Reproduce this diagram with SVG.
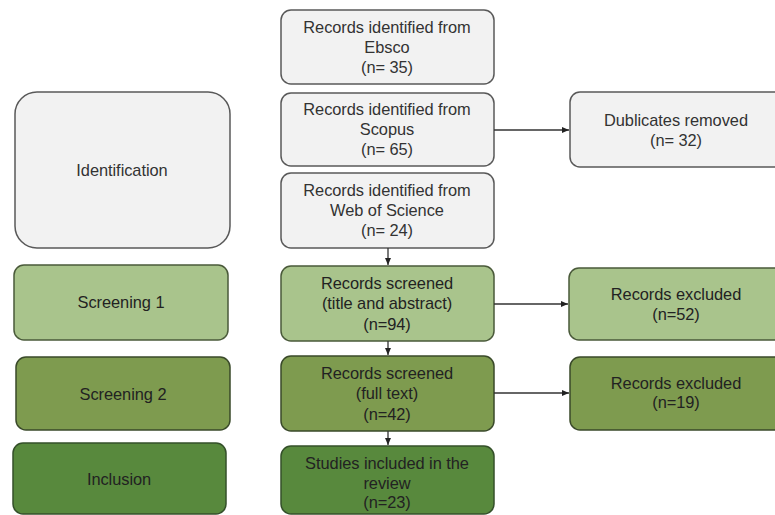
<svg xmlns="http://www.w3.org/2000/svg" width="775" height="515" viewBox="0 0 775 515">
<defs>
<marker id="arr" markerWidth="8" markerHeight="8" refX="7" refY="4" orient="auto" markerUnits="userSpaceOnUse">
<path d="M0,1 L7,4 L0,7 Z" fill="#222"/>
</marker>
<style>
text{font-family:"Liberation Sans",Arial,sans-serif;font-size:16.4px;text-anchor:middle;letter-spacing:-0.05px}
.g rect{fill:#f2f2f2;stroke:#595959;stroke-width:1.5}
.g text{fill:#333}
.s1 rect{fill:#a9c48c;stroke:#4a5a3a;stroke-width:1.5}
.s2 rect{fill:#7e9b4f;stroke:#3a4a2a;stroke-width:1.5}
.s3 rect{fill:#58893d;stroke:#34502a;stroke-width:1.5}
.s1 text,.s2 text,.s3 text{fill:#222}
.c line{stroke:#333;stroke-width:1.3;marker-end:url(#arr)}
</style>
</defs>
<rect width="775" height="515" fill="#fff"/>
<g id="identification" class="g"><rect x="15" y="92" width="215" height="156" rx="22"/><text x="122" y="176">Identification</text></g>
<g id="screening1" class="s1"><rect x="14" y="265" width="214" height="75" rx="10"/><text x="121" y="308">Screening 1</text></g>
<g id="screening2" class="s2"><rect x="16" y="357" width="214" height="73" rx="10"/><text x="123" y="400">Screening 2</text></g>
<g id="inclusion" class="s3"><rect x="13" y="443" width="213" height="71" rx="10"/><text x="119" y="485">Inclusion</text></g>
<g id="ebsco" class="g"><rect x="281" y="10" width="213" height="74" rx="10"/><text x="387" y="33">Records identified from</text><text x="387" y="53">Ebsco</text><text x="387" y="73">(n= 35)</text></g>
<g id="scopus" class="g"><rect x="281" y="93" width="213" height="73" rx="10"/><text x="387" y="115">Records identified from</text><text x="387" y="135">Scopus</text><text x="387" y="155">(n= 65)</text></g>
<g id="wos" class="g"><rect x="281" y="173" width="213" height="75" rx="10"/><text x="387" y="196">Records identified from</text><text x="387" y="216">Web of Science</text><text x="387" y="236">(n= 24)</text></g>
<g id="screened1" class="s1"><rect x="281" y="266" width="213" height="75" rx="10"/><text x="387" y="289">Records screened</text><text x="387" y="309">(title and abstract)</text><text x="387" y="330">(n=94)</text></g>
<g id="screened2" class="s2"><rect x="281" y="356" width="213" height="75" rx="10"/><text x="387" y="379">Records screened</text><text x="387" y="399">(full text)</text><text x="387" y="420">(n=42)</text></g>
<g id="included" class="s3"><rect x="281" y="446" width="213" height="68" rx="10"/><text x="387" y="469">Studies included in the</text><text x="387" y="489">review</text><text x="387" y="508">(n=23)</text></g>
<g id="duplicates" class="g"><rect x="570" y="92" width="215" height="75" rx="10"/><text x="676" y="126">Dublicates removed</text><text x="676" y="146">(n= 32)</text></g>
<g id="excluded1" class="s1"><rect x="569" y="268" width="216" height="72" rx="10"/><text x="676" y="300">Records excluded</text><text x="676" y="320">(n=52)</text></g>
<g id="excluded2" class="s2"><rect x="570" y="357" width="215" height="73" rx="10"/><text x="676" y="389">Records excluded</text><text x="676" y="408">(n=19)</text></g>
<g id="connectors" class="c">
<line x1="494" y1="130" x2="569" y2="130"/>
<line x1="494" y1="304" x2="568" y2="304"/>
<line x1="494" y1="393" x2="569" y2="393"/>
<line x1="388" y1="248" x2="388" y2="265"/>
<line x1="388" y1="341" x2="388" y2="355"/>
<line x1="388" y1="431" x2="388" y2="445"/>
</g>
</svg>
